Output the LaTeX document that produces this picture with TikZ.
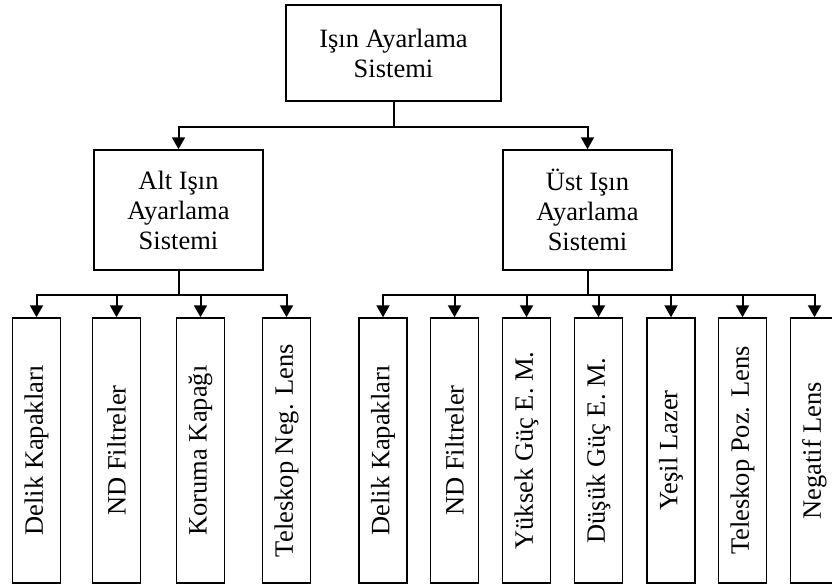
\documentclass[tikz,border=0pt]{standalone}
\usepackage{fontspec}
\setmainfont{Liberation Serif}
\usetikzlibrary{arrows.meta}

\begin{document}
\begin{tikzpicture}[
  x=1pt, y=-1pt,
  font=\fontsize{26.5}{30}\selectfont,
  conn/.style={draw, line width=2pt, -{Triangle[length=12pt,width=13pt]}},
  topbox/.style={draw, line width=1.5pt, align=center, minimum width=215pt, minimum height=96pt, inner sep=0pt},
  midbox/.style={draw, line width=1.5pt, align=center, minimum width=169pt, minimum height=120pt, inner sep=0pt},
  leaf/.style={draw, line width=1.5pt, rotate=90, minimum width=265pt, minimum height=48pt, inner sep=0pt},
]
\useasboundingbox (0,0) rectangle (832,584);
% top
\node[topbox] (isin) at (393.5,53) {Işın Ayarlama\\Sistemi};
% middle row
\node[midbox] (alt) at (178.5,210) {Alt Işın\\Ayarlama\\Sistemi};
\node[midbox] (ust) at (587.5,210) {Üst Işın\\Ayarlama\\Sistemi};
% leaves under Alt
\node[leaf] (a1) at (36.5,450.5)  {Delik Kapakları};
\node[leaf] (a2) at (116.5,450.5) {ND Filtreler};
\node[leaf] (a3) at (200.5,450.5) {Koruma Kapağı};
\node[leaf] (a4) at (286.5,450.5) {Teleskop Neg. Lens};
% leaves under Üst
\node[leaf] (u1) at (383,450.5)   {Delik Kapakları};
\node[leaf] (u2) at (454.5,450.5) {ND Filtreler};
\node[leaf] (u3) at (526.5,450.5) {Yüksek Güç E. M.};
\node[leaf] (u4) at (598.5,450.5) {Düşük Güç E. M.};
\node[leaf] (u5) at (671,450.5)   {Yeşil Lazer};
\node[leaf] (u6) at (742.5,450.5) {Teleskop Poz. Lens};
\node[leaf] (u7) at (814.5,450.5) {Negatif Lens};

\path[conn] (isin.south) -- ++(0,25) -| (alt.north);
\path[conn] (isin.south) -- ++(0,25) -| (ust.north);

\path[conn] (alt.south) -- ++(0,24) -| (a1.east);
\path[conn] (alt.south) -- ++(0,24) -| (a2.east);
\path[conn] (alt.south) -- ++(0,24) -| (a3.east);
\path[conn] (alt.south) -- ++(0,24) -| (a4.east);

\path[conn] (ust.south) -- ++(0,24) -| (u1.east);
\path[conn] (ust.south) -- ++(0,24) -| (u2.east);
\path[conn] (ust.south) -- ++(0,24) -| (u3.east);
\path[conn] (ust.south) -- ++(0,24) -| (u4.east);
\path[conn] (ust.south) -- ++(0,24) -| (u5.east);
\path[conn] (ust.south) -- ++(0,24) -| (u6.east);
\path[conn] (ust.south) -- ++(0,24) -| (u7.east);
\end{tikzpicture}
\end{document}
